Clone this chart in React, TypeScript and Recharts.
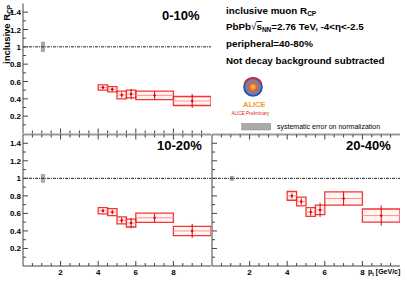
import React from 'react';
import {
	ComposedChart,
	XAxis,
	YAxis,
	Scatter,
	ErrorBar,
	ReferenceArea,
	ReferenceLine,
} from 'recharts';

const FONT = '"Liberation Sans", Arial, Helvetica, sans-serif';

//================================================================================
// pt bins [GeV/c]
//================================================================================
const binLow = [4, 4.5, 5, 5.5, 6, 8];
const binHigh = [4.5, 5, 5.5, 6, 8, 10];
const binCenter = [4.25, 4.75, 5.25, 5.75, 7, 9];

// inclusive muon Rcp, stat and sys errors, per centrality class
const rcp0010 = [0.53, 0.51, 0.445, 0.455, 0.44, 0.375];
const stat0010 = [0.02, 0.02, 0.03, 0.06, 0.05, 0.08];
const sys0010 = [0.03, 0.03, 0.045, 0.045, 0.05, 0.052];

const rcp1020 = [0.63, 0.615, 0.52, 0.49, 0.55, 0.4];
const stat1020 = [0.02, 0.025, 0.03, 0.06, 0.05, 0.08];
const sys1020 = [0.035, 0.04, 0.04, 0.045, 0.053, 0.053];

const rcp2040 = [0.8, 0.735, 0.615, 0.64, 0.77, 0.575];
const stat2040 = [0.03, 0.035, 0.04, 0.08, 0.08, 0.115];
const sys2040 = [0.05, 0.05, 0.05, 0.055, 0.075, 0.075];

const centralities = ['0-10%', '10-20%', '20-40%'];
// normalization error (half height of the grey box at pt = 1)
const normErr = [0.06, 0.05, 0.028];

const xTicks = [0.5, 1, 1.5, 2, 2.5, 3, 3.5, 4, 4.5, 5, 5.5, 6, 6.5, 7, 7.5, 8, 8.5, 9, 9.5];
const xLabels = [2, 4, 6, 8];
const yTicks = [0.1, 0.2, 0.3, 0.4, 0.5, 0.6, 0.7, 0.8, 0.9, 1, 1.1, 1.2, 1.3, 1.4];
const yLabels = [0.2, 0.4, 0.6, 0.8, 1, 1.2, 1.4];

const makeRows = (vals: number[], stat: number[], sys: number[]) =>
	binCenter.map((x, i) => ({
		x,
		y: vals[i],
		stat: stat[i],
		sys: sys[i],
		lo: binLow[i],
		hi: binHigh[i],
		halfWidth: (binHigh[i] - binLow[i]) / 2,
	}));

const panels = [
	makeRows(rcp0010, stat0010, sys0010),
	makeRows(rcp1020, stat1020, sys1020),
	makeRows(rcp2040, stat2040, sys2040),
];

//================================================================================
// ROOT-like inward ticks
//================================================================================
const YTick = (props: any) => {
	const { x, y, payload, showLabel } = props;
	const major = yLabels.includes(payload.value);
	const len = major ? 5 : 3;
	return (
		<g>
			<line x1={x} x2={x + len} y1={y} y2={y} stroke="#444" />
			{showLabel && major && (
				<text
					x={x - 2}
					y={y}
					dy={3}
					textAnchor="end"
					fontSize={8}
					fontWeight="bold"
					fontFamily={FONT}
					fill="#000"
				>
					{String(payload.value)}
				</text>
			)}
		</g>
	);
};

const XTick = (props: any) => {
	const { x, y, payload, showLabel, up } = props;
	const major = xLabels.includes(payload.value);
	const len = major ? 5 : 3;
	const dir = up ? -1 : 1;
	return (
		<g>
			<line x1={x} x2={x} y1={y} y2={y + dir * len} stroke="#444" />
			{showLabel && major && (
				<text
					x={x}
					y={y + 8.5}
					textAnchor="middle"
					fontSize={8}
					fontWeight="bold"
					fontFamily={FONT}
					fill="#000"
				>
					{String(payload.value)}
				</text>
			)}
		</g>
	);
};

const Dot = (p: any) => <circle cx={p.cx} cy={p.cy} r={1.2} fill="#e00000" />;

type PanelProps = {
	idx: number;
	left: number;
	top: number;
	width: number;
	height: number;
	marginTop: number;
	yAxisWidth: number;
	xAxisHeight: number;
	topAxisHeight: number;
	yLabelsOn: boolean;
	xLabelsOn: boolean;
};

const Panel = ({
	idx,
	left,
	top,
	width,
	height,
	marginTop,
	yAxisWidth,
	xAxisHeight,
	topAxisHeight,
	yLabelsOn,
	xLabelsOn,
}: PanelProps) => {
	const rows = panels[idx];
	return (
		<div style={{ position: 'absolute', left, top }}>
			<ComposedChart
				width={width}
				height={height}
				data={rows}
				margin={{ top: marginTop, right: 0, bottom: 0, left: 0 }}
			>
				<XAxis
					type="number"
					dataKey="x"
					domain={[0, 10]}
					allowDataOverflow
					ticks={xTicks}
					interval={0}
					height={xAxisHeight}
					tickSize={0}
					tickMargin={0}
					axisLine={idx === 0 ? false : { stroke: '#444' }}
					tickLine={false}
					tick={(p: any) => <XTick {...p} up showLabel={xLabelsOn} />}
				/>
				{topAxisHeight > 0 && (
					<XAxis
						xAxisId="top"
						orientation="top"
						type="number"
						dataKey="x"
						domain={[0, 10]}
						allowDataOverflow
						ticks={xTicks}
						interval={0}
						height={topAxisHeight}
						tickSize={0}
						tickMargin={0}
						axisLine={{ stroke: '#999', strokeWidth: 2 }}
						tickLine={false}
						tick={(p: any) => <XTick {...p} showLabel={false} />}
					/>
				)}
				<YAxis
					type="number"
					domain={[0, 1.5]}
					allowDataOverflow
					ticks={yTicks}
					interval={0}
					width={yAxisWidth}
					tickSize={0}
					tickMargin={0}
					axisLine={{ stroke: '#444' }}
					tickLine={false}
					tick={(p: any) => <YTick {...p} showLabel={yLabelsOn} />}
				/>
				<ReferenceLine
					y={1}
					stroke="#222"
					strokeDasharray="3 1 1 1"
					ifOverflow="visible"
				/>
				<ReferenceArea
					x1={0.95}
					x2={1.17}
					y1={1 - normErr[idx]}
					y2={1 + normErr[idx]}
					fill="#aaaaaa"
					fillOpacity={1}
					stroke="none"
				/>
				{rows.map((r, i) => (
					<ReferenceArea
						key={`sys-${i}`}
						x1={r.lo}
						x2={r.hi}
						y1={r.y - r.sys}
						y2={r.y + r.sys}
						fill="#ff0000"
						fillOpacity={0.04}
						stroke="#f02020"
						strokeWidth={1.3}
						strokeOpacity={0.9}
					/>
				))}
				<Scatter
					dataKey="y"
					fill="#e00000"
					shape={Dot}
					isAnimationActive={false}
				>
					<ErrorBar
						dataKey="halfWidth"
						direction="x"
						width={0}
						stroke="#ff9090"
						strokeWidth={1}
					/>
					<ErrorBar
						dataKey="stat"
						direction="y"
						width={0}
						stroke="#e00000"
						strokeWidth={1}
					/>
				</Scatter>
			</ComposedChart>
		</div>
	);
};

export default function App() {
	const titleStyle = {
		fontFamily: FONT,
		fontWeight: 'bold' as const,
		fill: '#000',
	};
	return (
		<div
			style={{
				position: 'fixed',
				left: 0,
				top: 0,
				width: 407,
				height: 282,
				background: '#fff',
				overflow: 'hidden',
			}}
		>
			<Panel
				idx={0}
				left={0}
				top={0}
				width={211}
				height={135}
				marginTop={3.5}
				yAxisWidth={23}
				xAxisHeight={1.5}
				topAxisHeight={0}
				yLabelsOn
				xLabelsOn={false}
			/>
			<Panel
				idx={1}
				left={0}
				top={130}
				width={211}
				height={152}
				marginTop={0}
				yAxisWidth={23}
				xAxisHeight={16}
				topAxisHeight={4.5}
				yLabelsOn
				xLabelsOn
			/>
			<Panel
				idx={2}
				left={209.6}
				top={130}
				width={190}
				height={152}
				marginTop={0}
				yAxisWidth={2}
				xAxisHeight={16}
				topAxisHeight={4.5}
				yLabelsOn={false}
				xLabelsOn
			/>
			<svg
				width={407}
				height={282}
				style={{ position: 'absolute', left: 0, top: 0, pointerEvents: 'none' }}
			>
				<defs>
					<radialGradient id="aliceCore">
						<stop offset="0" stopColor="#ffd83a" />
						<stop offset="0.45" stopColor="#d8603a" />
						<stop offset="0.8" stopColor="#5a8ac0" />
						<stop offset="1" stopColor="#3a5fb0" />
					</radialGradient>
				</defs>
				{/* y axis title */}
				<text transform="translate(10,64) rotate(-90)" fontSize={9.5} {...titleStyle}>
					inclusive R
					<tspan fontSize={6.5} dy={2}>
						CP
					</tspan>
				</text>
				{/* centrality labels */}
				<text x={162} y={19.5} fontSize={13} {...titleStyle}>
					{centralities[0]}
				</text>
				<text x={157} y={150} fontSize={13} {...titleStyle}>
					{centralities[1]}
				</text>
				<text x={346} y={150} fontSize={13} {...titleStyle}>
					{centralities[2]}
				</text>
				{/* legend text block */}
				<text x={226} y={13.5} fontSize={9.8} {...titleStyle}>
					inclusive muon R
					<tspan fontSize={6.5} dy={2}>
						CP
					</tspan>
				</text>
				<text x={226} y={30} fontSize={9.8} {...titleStyle}>
					PbPb
					<tspan fontWeight="normal">√</tspan>
					<tspan style={{ textDecoration: 'overline' }}>s</tspan>
					<tspan fontSize={6.5} dy={2}>
						NN
					</tspan>
					<tspan dy={-2}>=2.76 TeV, -4&lt;η&lt;-2.5</tspan>
				</text>
				<text x={226} y={47} fontSize={9.8} {...titleStyle}>
					peripheral=40-80%
				</text>
				<text x={226} y={64} fontSize={9.8} {...titleStyle}>
					Not decay background subtracted
				</text>
				{/* ALICE logo */}
				<circle cx={253} cy={87} r={9} fill="url(#aliceCore)" stroke="#2c4fa3" strokeWidth={1.6} />
				<path d="M 244.5 84 A 9 9 0 0 1 261.5 84" stroke="#d8262e" strokeWidth={1.8} fill="none" />
				<text x={243} y={107} fontSize={7.5} fontFamily={FONT} fontWeight="bold" fill="#f39a1e">
					ALICE
				</text>
				<text x={231.5} y={115} fontSize={4.6} fontFamily={FONT} fill="#e02020">
					ALICE Preliminary
				</text>
				{/* normalization legend */}
				<rect x={241.7} y={123.5} width={29} height={6.5} fill="#aaaaaa" stroke="#888" strokeWidth={0.5} />
				<text x={277} y={129} fontSize={7} fontFamily={FONT} fill="#000">
					systematic error on normalization
				</text>
				{/* x axis title */}
				<text x={368} y={274} fontSize={7} {...titleStyle}>
					p
					<tspan fontSize={4.8} dy={1.5}>
						t
					</tspan>
					<tspan dy={-1.5}> [GeV/c]</tspan>
				</text>
			</svg>
		</div>
	);
}
